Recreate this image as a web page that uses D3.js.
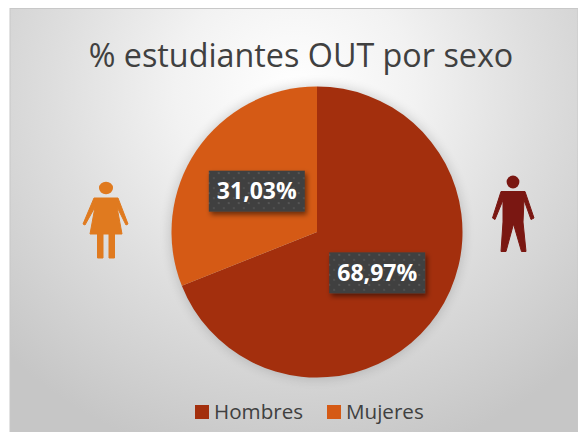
<!DOCTYPE html>
<html>
<head>
<meta charset="utf-8">
<script src="https://cdn.jsdelivr.net/npm/d3@7"></script>
<style>html,body{margin:0;padding:0;background:#fff}svg{display:block}text{font-family:"Open Sans",sans-serif}</style>
</head>
<body>
<svg id="c" width="578" height="432"></svg>
<script>
const categories = ["Hombres", "Mujeres"];
const values = [68.97, 31.03];
const labels = ["68,97%", "31,03%"];
const colors = ["#a32f0d", "#d55a15"];
const chartTitle = "% estudiantes OUT por sexo";

const svg = d3.select("#c");
const defs = svg.append("defs");
const bg = defs.append("radialGradient").attr("id", "bg").attr("gradientUnits", "userSpaceOnUse")
  .attr("cx", 295).attr("cy", 90).attr("r", 400)
  .attr("gradientTransform", "translate(295 90) scale(1 .95) translate(-295 -90)");
[[0, "#ffffff"], [0.3, "#f2f2f2"], [0.6, "#dedede"], [1, "#c6c6c6"]].forEach(s =>
  bg.append("stop").attr("offset", s[0]).attr("stop-color", s[1]));
const pat = defs.append("pattern").attr("id", "dots").attr("patternUnits", "userSpaceOnUse")
  .attr("width", 10).attr("height", 10);
pat.append("rect").attr("width", 10).attr("height", 10).attr("fill", "#404040");
pat.append("circle").attr("cx", 2).attr("cy", 2).attr("r", 1).attr("fill", "#5c5c5c");
pat.append("circle").attr("cx", 7).attr("cy", 7).attr("r", 1).attr("fill", "#555555");
const sh = defs.append("filter").attr("id", "sh").attr("x", "-20%").attr("y", "-30%").attr("width", "140%").attr("height", "170%");
sh.append("feDropShadow").attr("dx", 2).attr("dy", 3).attr("stdDeviation", 2.5).attr("flood-color", "#000").attr("flood-opacity", 0.5);
const ps = defs.append("filter").attr("id", "ps").attr("x", "-15%").attr("y", "-15%").attr("width", "130%").attr("height", "130%");
ps.append("feGaussianBlur").attr("stdDeviation", 6);

svg.append("rect").attr("x", 10).attr("y", 8.5).attr("width", 568).attr("height", 424)
  .attr("fill", "url(#bg)").attr("stroke", "#c8c8c8").attr("stroke-width", 1);

svg.append("text").attr("x", 301).attr("y", 66.5).attr("text-anchor", "middle")
  .attr("font-size", 32.3).attr("fill", "#404040").text(chartTitle);

const cx = 317, cy = 232, R = 145.5;
const pie = d3.pie().sort(null)(values);
const arc = d3.arc().innerRadius(0).outerRadius(R);
const g = svg.append("g").attr("transform", `translate(${cx},${cy})`);
g.append("circle").attr("r", R + 1).attr("fill", "#000").attr("opacity", 0.16).attr("filter", "url(#ps)");
g.selectAll("path.s").data(pie).join("path").attr("class", "s")
  .attr("d", arc).attr("fill", (d, i) => colors[i]);

const lw = 96, lh = 41;
const lab = g.selectAll("g.l").data(pie).join("g").attr("class", "l")
  .attr("transform", d => { const c = arc.centroid(d); return `translate(${c[0]},${c[1]})`; });
lab.append("rect").attr("x", -lw / 2).attr("y", -lh / 2).attr("width", lw).attr("height", lh)
  .attr("fill", "url(#dots)").attr("filter", "url(#sh)");
lab.append("text").attr("text-anchor", "middle").attr("y", 8).attr("font-size", 23)
  .attr("font-weight", 700).attr("fill", "#fff").text((d, i) => labels[i]);

// pictograms
svg.append("ellipse").attr("cx", 106).attr("cy", 188).attr("rx", 7).attr("ry", 6.2).attr("fill", "#e07a1f");
svg.append("path").attr("fill", "#e07a1f").attr("stroke", "#e07a1f").attr("stroke-width", 1).attr("stroke-linejoin", "round")
  .attr("d", "M94 198H118L128 224L126 225L117 207L122 234H114.5V258H109V234H103V258H97.5V234H90L95 207L85 225L83 224Z");
svg.append("circle").attr("cx", 513).attr("cy", 182).attr("r", 6.4).attr("fill", "#7a1712");
svg.append("path").attr("fill", "#7a1712").attr("stroke", "#7a1712").attr("stroke-width", 1).attr("stroke-linejoin", "round")
  .attr("d", "M501 191.5H525L534 218L531 219.5L524 200L523 222L526 251.5H521.5L513.5 224L506 251.5H501L503 222L503 200L495 219.5L492.5 218Z");

// legend
const lx = [195, 327];
const leg = svg.selectAll("g.k").data(categories).join("g").attr("class", "k")
  .attr("transform", (d, i) => `translate(${lx[i]},405)`);
leg.append("rect").attr("width", 14).attr("height", 14).attr("fill", (d, i) => colors[i]);
leg.append("text").attr("x", 19).attr("y", 14).attr("font-size", 20.6).attr("fill", "#404040").text(d => d);
</script>
</body>
</html>
